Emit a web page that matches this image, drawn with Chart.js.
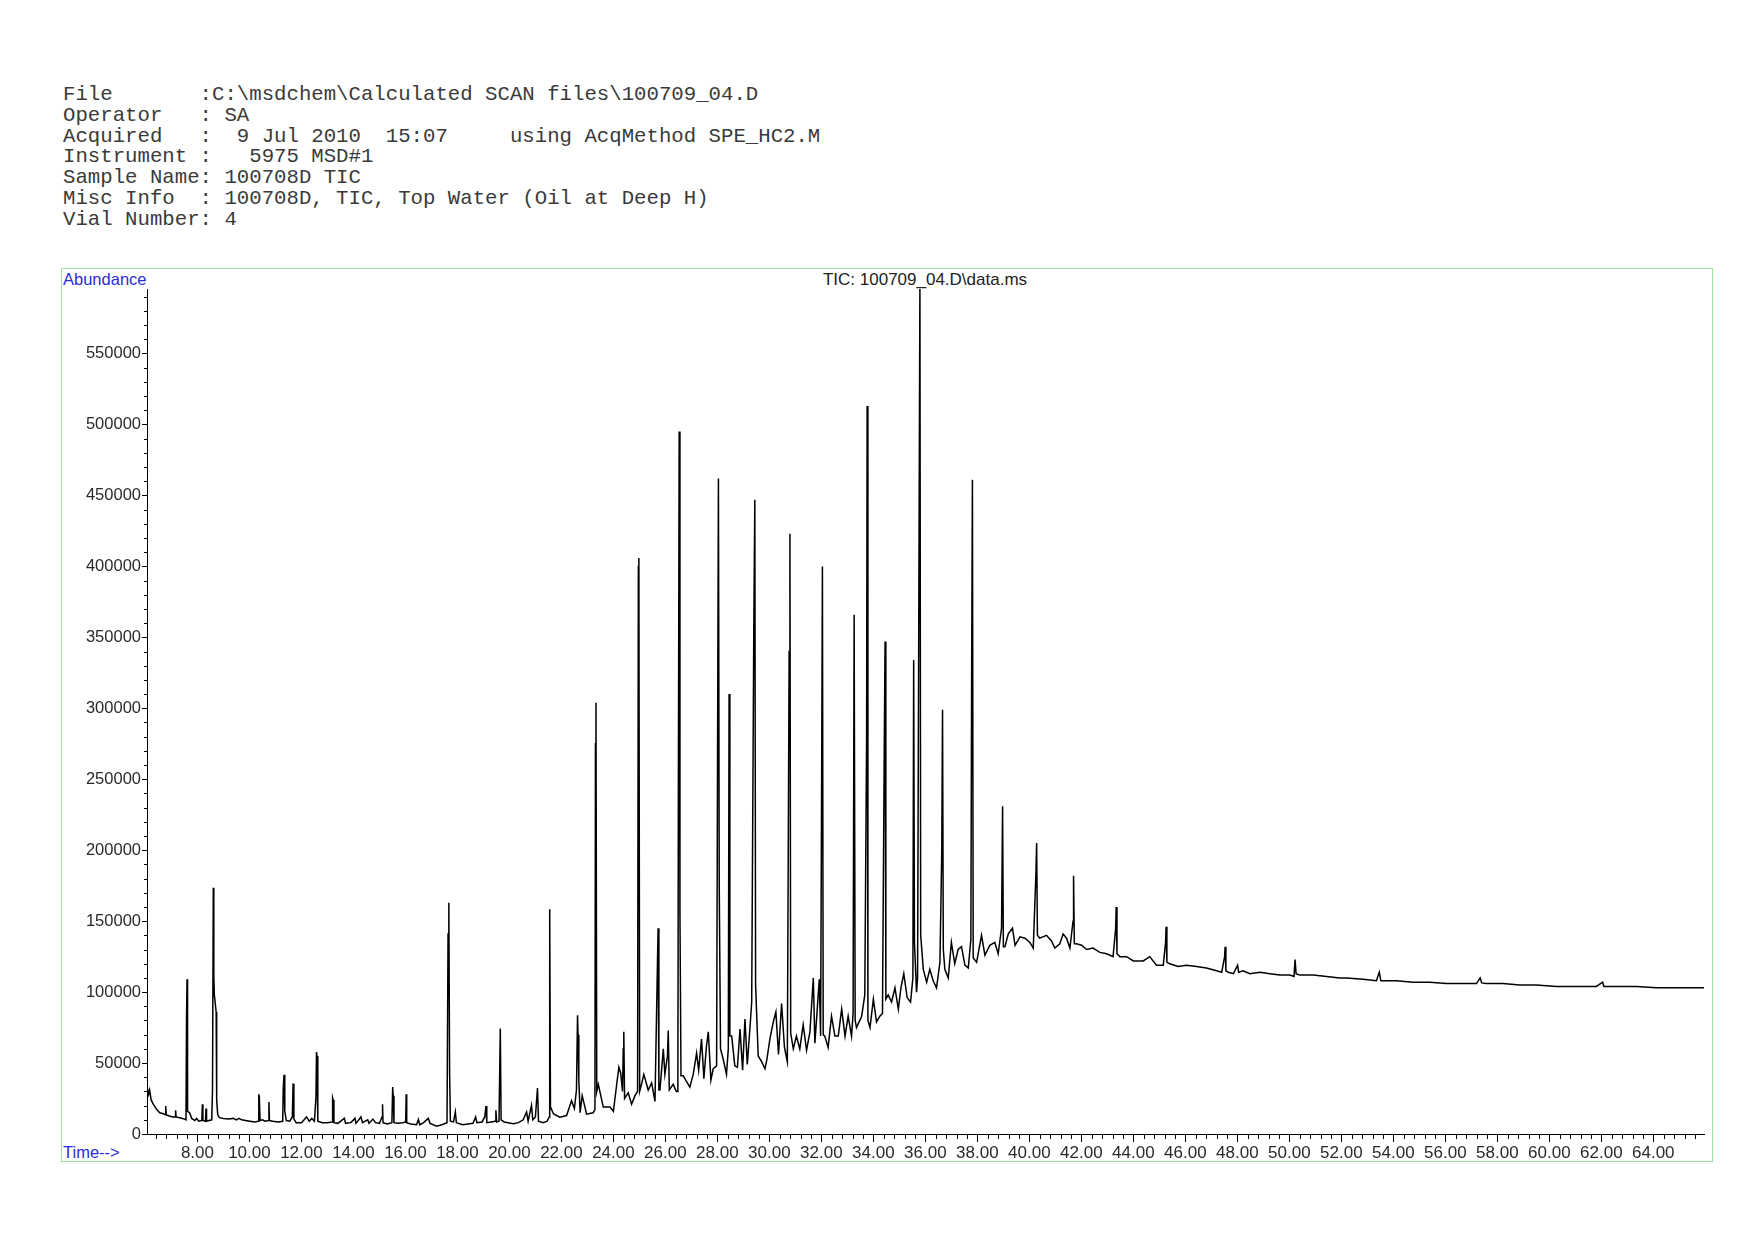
<!DOCTYPE html>
<html>
<head>
<meta charset="utf-8">
<script src="https://cdn.jsdelivr.net/npm/chart.js@4.4.1/dist/chart.umd.min.js"></script>
<style>
  html, body { margin: 0; padding: 0; background: #fff; }
  body { width: 1754px; height: 1240px; position: relative; overflow: hidden; }
  #chart { position: absolute; left: 0; top: 0; }
  .hdr { position: absolute; left: 63px; top: 85px; margin: 0; font-family: "Liberation Mono", "Courier New", monospace; font-size: 20.7px; line-height: 20.8px; color: #3a3a3a; white-space: pre; }
  .frame { position: absolute; left: 61px; top: 268px; width: 1650px; height: 892px; border: 1px solid #9ee29e; }
  .lbl { position: absolute; font-family: "Liberation Sans", Arial, sans-serif; line-height: 1; white-space: pre; }
  .blue { color: #2b2bd6; font-size: 16.5px; }
  #title { left: 925px; top: 271px; transform: translateX(-50%); font-size: 17px; color: #222; }
</style>
</head>
<body>
<pre class="hdr">File       :C:\msdchem\Calculated SCAN files\100709_04.D
Operator   : SA
Acquired   :  9 Jul 2010  15:07     using AcqMethod SPE_HC2.M
Instrument :   5975 MSD#1
Sample Name: 100708D TIC
Misc Info  : 100708D, TIC, Top Water (Oil at Deep H)
Vial Number: 4</pre>
<div class="frame"></div>
<div class="lbl blue" style="left:63px; top:271px;">Abundance</div>
<div class="lbl blue" style="left:63px; top:1144px;">Time--&gt;</div>
<div class="lbl" id="title">TIC: 100709_04.D\data.ms</div>
<canvas id="chart" width="1754" height="1240"></canvas>
<script>
// ---- data: [retention time (min), abundance] ----
const earlyRegion = [
  [6.08,32000],[6.12,28000],[6.16,31000],[6.22,24000],[6.30,21000],[6.43,17500],[6.55,15000],
  [6.69,14300],[6.76,13500],[6.78,19700],[6.80,13500],[6.95,12500],[7.07,12000],[7.14,12000],
  [7.16,16700],[7.18,12000],[7.35,11300],[7.50,10500],[7.56,10000],[7.58,81000],[7.60,109000],
  [7.62,16000],[7.66,15500],[7.70,15000],[7.78,11000],[7.90,9500],[7.97,11000],[8.05,9000],
  [8.17,9500],[8.19,21000],[8.21,9500],[8.31,9000],[8.33,18000],[8.35,9000],[8.45,9500],
  [8.55,10000],[8.58,31000],[8.61,173500],[8.63,111000],[8.65,98000],[8.68,93000],[8.72,86000],
  [8.74,24000],[8.78,13500],[8.85,11500],[9.00,11000],[9.20,10500],[9.38,11000],[9.50,10000],
  [9.60,11000],[9.70,10000],[9.85,9500],[10.02,9000],[10.20,8500],[10.34,9000],[10.36,28000],
  [10.38,26000],[10.41,9500],[10.50,10000],[10.60,9000],[10.73,9500],[10.75,22500],[10.77,9500],
  [10.90,9000],[11.10,8500],[11.28,9000],[11.30,31700],[11.33,41800],[11.36,16000],[11.42,9500],
  [11.55,9000],[11.65,12000],[11.68,35500],[11.71,10500],[11.80,8000],[12.00,8000],[12.20,12000],
  [12.30,9000],[12.40,11000],[12.50,9000],[12.56,26000],[12.58,57800],[12.60,55000],[12.63,9000],
  [12.80,8000],[13.00,8000],[13.18,8500],[13.20,25400],[13.22,24000],[13.25,8000],[13.40,7500],
  [13.65,11000],[13.70,7500],[13.90,8000],[14.06,11000],[14.10,7500],[14.29,12000],[14.35,8000],
  [14.55,10000],[14.60,7500],[14.75,10500],[14.85,8000],[15.00,7500],[15.10,12000],[15.12,20900],
  [15.14,8000],[15.30,7000],[15.48,8000],[15.51,33100],[15.53,27000],[15.56,8000],[15.70,7500],
  [15.90,8000],[16.01,8500],[16.03,28000],[16.05,8000],[16.20,7000],[16.43,6500],[16.50,10300],
  [16.55,6500],[16.70,8000],[16.88,11000],[16.95,7500],[17.20,5500],[17.40,6500],[17.60,8000],
  [17.64,141000],[17.67,163000],[17.70,42500],[17.73,9000],[17.85,8500],[17.92,15500],[17.96,8000],
  [18.20,6500],[18.40,7000],[18.60,7500],[18.70,12000],[18.75,8000],[18.95,8500],[19.05,12000],
  [19.10,19700],[19.13,8000],[19.30,8500],[19.45,9000],[19.48,16700],[19.51,8500],[19.60,9000],
  [19.65,74300],[19.68,10000],[19.80,8500],[20.15,7300],[20.35,8000],[20.53,10000],[20.66,15500],
  [20.72,9000],[20.85,20200],[20.90,10000],[21.00,12000],[21.08,32400],[21.12,9000],[21.30,8000],
  [21.45,9000],[21.53,12000],[21.55,158400],[21.58,19000],[21.70,14100],[21.94,11800]
];
const riseRegion = [
  [22.20,13000],[22.39,23500],[22.50,18000],[22.58,31000],[22.62,83700],[22.64,70000],[22.67,38000],
  [22.72,15000],[22.80,27000],[22.97,14000],[23.22,15000],[23.29,17000],[23.31,275000],[23.33,304000],
  [23.36,30000],[23.42,35000],[23.61,19000],[23.87,19000],[24.00,16000],[24.12,34000],[24.21,47000],
  [24.28,43000],[24.35,30000],[24.38,60000],[24.40,72000],[24.43,25000],[24.57,29000],[24.70,21000],
  [24.83,27000],[24.93,30000],[24.96,400000],[24.98,406000],[25.01,30000],[25.08,35000],[25.17,42000],
  [25.34,31000],[25.47,36000],[25.60,23000],[25.70,126000],[25.72,145000],[25.75,31000],[25.79,31000],
  [25.92,60000],[25.98,42000],[26.08,55000],[26.11,73000],[26.15,31000],[26.30,35000],[26.42,30000],
  [26.48,30000],[26.50,250000],[26.53,495000],[26.56,155000],[26.60,41000],[26.69,41000],[26.81,37000],
  [26.94,33000],[27.07,42000],[27.20,57000],[27.28,45000],[27.39,67000],[27.48,39000],[27.58,62000],
  [27.65,72000],[27.75,38000],[27.84,46000],[27.97,48000],[28.01,290000],[28.04,462000],[28.07,178000],
  [28.12,60000],[28.22,53000],[28.35,42000],[28.42,60000],[28.45,310000],[28.48,69000],[28.55,69000],
  [28.67,48000],[28.77,47000],[28.87,74000],[28.97,45000],[29.06,81000],[29.15,49000],[29.25,74000],
  [29.32,93000],[29.40,355000],[29.44,447000],[29.47,105000],[29.57,55000],[29.70,51000],[29.83,46000],
  [29.90,52000],[30.02,67000],[30.15,79000],[30.25,86000],[30.35,56000],[30.47,92000],[30.58,61000],
  [30.69,51000],[30.76,340000],[30.79,423000],[30.82,71000],[30.92,60000],[31.04,69000],[31.17,60000],
  [31.30,77000],[31.43,59000],[31.56,72000],[31.69,110000],[31.75,64000],[31.92,109000],[31.97,69000],
  [32.01,250000],[32.04,400000],[32.07,70000],[32.13,69000],[32.26,61000],[32.39,83000],[32.52,69000],
  [32.65,69000],[32.78,88000],[32.91,69000],[33.03,83000],[33.16,69000],[33.22,85000],[33.26,366000],
  [33.30,80000],[33.35,75000],[33.55,83000],[33.67,98000],[33.74,280000],[33.76,513000],[33.79,80000],
  [33.87,75000],[34.00,95000],[34.12,79000],[34.25,83000],[34.35,85000],[34.42,275000],[34.45,347000],
  [34.48,95000],[34.57,98000],[34.70,93000],[34.83,103000],[34.96,88000],[35.06,103000],[35.17,113000],
  [35.30,96000],[35.43,93000],[35.52,110000],[35.55,334000],[35.58,135000],[35.66,100000],[35.70,110000],
  [35.79,600000],[35.82,140000],[35.92,116000],[36.05,107000],[36.17,116000],[36.30,108000],[36.43,103000],
  [36.56,121000],[36.63,198000],[36.66,299000],[36.69,130000],[36.75,116000],[36.88,110000],[37.00,135000],
  [37.13,120000],[37.26,130000],[37.39,132000],[37.52,119000],[37.65,117000],[37.75,137000],[37.78,325000],
  [37.81,461000],[37.84,124000],[37.97,121000]
];
const humpRegion = [
  [38.16,140000],[38.29,126000],[38.48,133000],[38.67,135000],[38.80,127000],[38.93,145000],[38.97,231000],
  [39.00,132000],[39.06,132000],[39.19,141000],[39.35,145000],[39.45,133000],[39.64,139000],[39.83,138000],
  [40.02,135000],[40.15,131000],[40.25,182000],[40.28,205000],[40.31,140000],[40.40,138000],[40.66,140000],
  [40.85,136000],[40.98,131000],[41.17,134000],[41.30,141000],[41.43,138000],[41.56,131000],[41.68,150000],
  [41.70,182000],[41.73,134000],[41.81,134000],[42.01,133000],[42.20,130000],[42.45,131000],[42.71,128000],
  [42.97,127000],[43.22,125000],[43.32,145000],[43.34,160000],[43.37,127000],[43.48,125000],[43.74,125000],
  [44.00,122000],[44.38,122000],[44.63,125000],[44.89,119000],[45.15,119000],[45.24,135000],[45.26,146000],
  [45.29,121000],[45.40,120000],[45.72,118000],[46.04,119000],[46.43,118000],[46.81,117000],[47.20,115000],
  [47.40,114000],[47.51,125000],[47.53,132000],[47.56,115000],[47.65,114000],[47.85,113000],[48.01,119000],
  [48.05,114000],[48.22,115000],[48.48,113000],[48.87,114000],[49.25,113000],[49.64,112000],[50.02,112000],
  [50.18,111000],[50.22,123000],[50.26,113000],[50.40,112000],[50.92,112000],[51.43,111000],[51.94,110000]
];
const tailRegion = [
  [52.20,110000],[52.84,109000],[53.35,108000],[53.46,114000],[53.52,108000],[53.61,108000],[54.12,108000],
  [54.76,107000],[55.40,107000],[56.04,106000],[56.69,106000],[57.20,106000],[57.34,110000],[57.40,106500],
  [57.58,106000],[58.22,106000],[58.86,105000],[59.50,105000],[60.28,104000],[61.04,104000],[61.81,104000],
  [62.05,107000],[62.10,104000],[62.58,104000],[63.35,104000],[64.12,103000],[64.90,103000],[65.66,103000],
  [65.95,103000]
];
// ---- axis settings / tick labels ----
const timeRange = [6.06, 65.95];
const abundanceRange = [0, 595500];
const timeLabels = [8, 10, 12, 14, 16, 18, 20, 22, 24, 26, 28, 30, 32, 34, 36, 38, 40, 42, 44, 46, 48, 50, 52, 54, 56, 58, 60, 62, 64];
const abundanceLabels = [0, 50000, 100000, 150000, 200000, 250000, 300000, 350000, 400000, 450000, 500000, 550000];
const timeMinorStep = 0.4;
const abundanceMinorStep = 10000;

const points = [...earlyRegion, ...riseRegion, ...humpRegion, ...tailRegion].map(([t, v]) => ({x: t, y: v}));

const minorTicks = {
  id: 'minorTicks',
  afterDraw(chart) {
    const {ctx, scales: {x, y}} = chart;
    ctx.save();
    ctx.strokeStyle = '#000';
    ctx.lineWidth = 1;
    ctx.beginPath();
    const i0 = Math.ceil(x.min / timeMinorStep);
    for (let i = i0; i * timeMinorStep <= x.max + 1e-9; i++) {
      const v = Math.round(i * timeMinorStep * 10) / 10;
      if (timeLabels.some(m => Math.abs(m - v) < 1e-6)) continue;
      const px = Math.round(x.getPixelForValue(v)) + 0.5;
      ctx.moveTo(px, y.bottom);
      ctx.lineTo(px, y.bottom + 5);
    }
    for (let v = abundanceMinorStep; v < y.max; v += abundanceMinorStep) {
      if (abundanceLabels.includes(v)) continue;
      const py = Math.round(y.getPixelForValue(v)) + 0.5;
      ctx.moveTo(x.left - 3, py);
      ctx.lineTo(x.left, py);
    }
    ctx.stroke();
    ctx.restore();
  }
};

const tickFamily = '"Liberation Sans", Arial, sans-serif';

new Chart(document.getElementById('chart').getContext('2d'), {
  type: 'line',
  data: {
    datasets: [{
      data: points,
      borderColor: '#000',
      borderWidth: 1.5,
      pointRadius: 0,
      tension: 0,
      fill: false
    }]
  },
  options: {
    responsive: false,
    animation: false,
    devicePixelRatio: 1,
    parsing: false,
    layout: {padding: {left: 0, right: 50, top: 289, bottom: 0}},
    plugins: {legend: {display: false}, tooltip: {enabled: false}, title: {display: false}},
    scales: {
      x: {
        type: 'linear',
        min: timeRange[0],
        max: timeRange[1],
        afterBuildTicks(s) { s.ticks = timeLabels.map(v => ({value: v})); },
        afterFit(s) { s.height = 106; },
        border: {display: true, color: '#000', width: 1},
        grid: {display: true, drawOnChartArea: false, drawTicks: true, tickLength: 8, color: '#000'},
        ticks: {
          autoSkip: false, maxRotation: 0, minRotation: 0,
          padding: 1, color: '#2a2a2a', font: {family: tickFamily, size: 17},
          callback: v => Number(v).toFixed(2)
        }
      },
      y: {
        type: 'linear',
        min: abundanceRange[0],
        max: abundanceRange[1],
        afterBuildTicks(s) { s.ticks = abundanceLabels.map(v => ({value: v})); },
        afterFit(s) { s.width = 147; },
        border: {display: true, color: '#000', width: 1},
        grid: {display: true, drawOnChartArea: false, drawTicks: true, tickLength: 5, color: '#000'},
        ticks: {
          autoSkip: false,
          padding: 1, color: '#2a2a2a', font: {family: tickFamily, size: 16.5},
          callback: v => String(v)
        }
      }
    }
  },
  plugins: [minorTicks]
});
</script>
</body>
</html>
